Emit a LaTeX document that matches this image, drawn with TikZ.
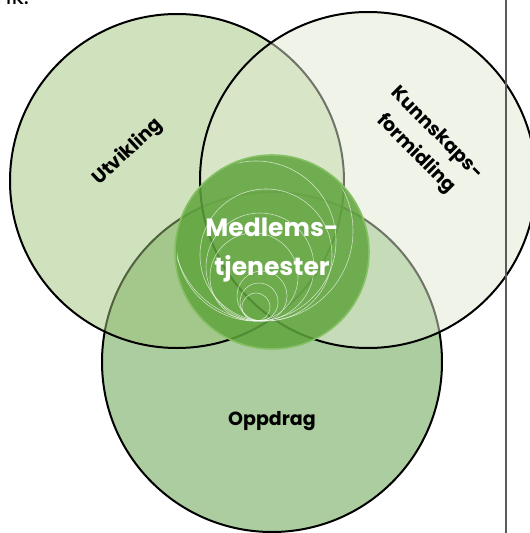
\documentclass[tikz,border=0pt]{standalone}
\usepackage{fontspec}
\setmainfont{Poppins}
\definecolor{cLeft}{HTML}{9FC57B}
\definecolor{cRight}{HTML}{E1E9D1}
\definecolor{cBottom}{HTML}{ABCD9F}
\definecolor{cMid}{HTML}{5FA43D}
\definecolor{cMidEdge}{HTML}{86C064}
\definecolor{cRule}{HTML}{5A5A5A}
\tikzset{
  bigcircle/.style={circle, draw=black, line width=2pt, minimum size=#1, inner sep=0pt},
  lbl/.style={font=\bfseries\fontsize{19}{29}\selectfont, text=black, align=center},
  ring/.style={draw=white, line width=0.6pt, draw opacity=0.65},
}
\begin{document}
\begin{tikzpicture}[x=1pt,y=-1pt]
\useasboundingbox (0,0) rectangle (530,533);
\clip (0,0) rectangle (530,533);
% page text fragment
\node[anchor=base west, inner sep=0pt, font=\fontsize{24}{26}\selectfont] (frag) at (-4,4) {nk.};
% circles
\node[bigcircle=340pt, fill=cBottom] (oppdrag) at (272,362) {};
\node[bigcircle=334pt, fill=cLeft, fill opacity=0.5] (utvikling) at (177,181) {};
\node[bigcircle=336pt, fill=cRight, fill opacity=0.5] (kunnskap) at (368,180) {};
% middle circle
\node[circle, minimum size=194pt, inner sep=0pt, fill=cMid, fill opacity=0.85, draw=cMidEdge, line width=1.6pt] (medlem) at (272,252) {};
\begin{scope}
\clip (272,252) circle (95pt);
\foreach \r/\dx in {14/-4, 19/-1, 25/2, 44/-6, 54/0, 66/6, 80/-4, 90/3} {
  \draw[ring] (260+\dx,321-\r) circle (\r pt);
}
\end{scope}
% labels
\node[font=\bfseries\fontsize{25}{39}\selectfont, text=white, align=center] (mtxt) at (272,250) {Medlems-\\tjenester};
\node[lbl, rotate=43] (utxt) at (128,152) {Utvikling};
\node[lbl, rotate=-45] (ktxt) at (426,144) {Kunnskaps-\\formidling};
\node[lbl] (otxt) at (272,421) {Oppdrag};
% page rule
\draw[cRule, line width=1.2pt] (506,0) -- (506,533);
\end{tikzpicture}
\end{document}
